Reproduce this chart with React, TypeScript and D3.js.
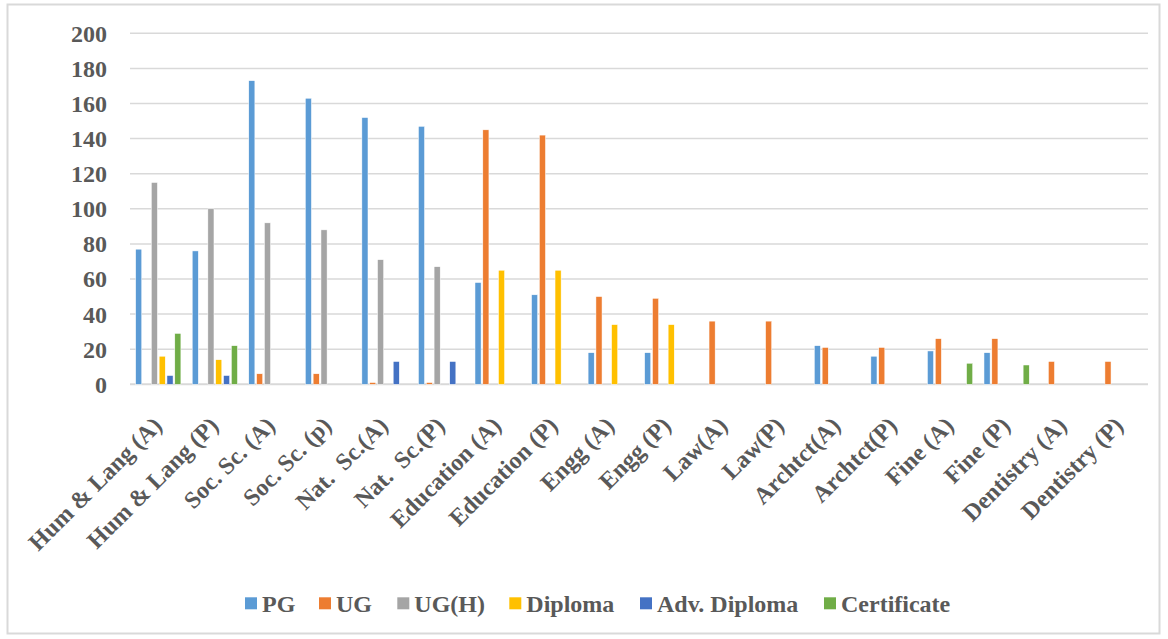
import React from "react";
import * as d3 from "d3";

const categories = [
  "Hum & Lang (A)", "Hum & Lang (P)", "Soc. Sc. (A)", "Soc. Sc. (p)", "Nat.  Sc.(A)", "Nat.  Sc.(P)",
  "Education (A)", "Education (P)", "Engg (A)", "Engg (P)", "Law(A)", "Law(P)",
  "Archtct(A)", "Archtct(P)", "Fine (A)", "Fine (P)", "Dentistry (A)", "Dentistry (P)",
];
const seriesNames = ["PG", "UG", "UG(H)", "Diploma", "Adv. Diploma", "Certificate"];
const seriesColors = ["#5B9BD5", "#ED7D31", "#A5A5A5", "#FFC000", "#4472C4", "#70AD47"];

const pg = [77, 76, 173, 163, 152, 147, 58, 51, 18, 18, 0, 0, 22, 16, 19, 18, 0, 0];
const ug = [0, 0, 6, 6, 1, 1, 145, 142, 50, 49, 36, 36, 21, 21, 26, 26, 13, 13];
const ugh = [115, 100, 92, 88, 71, 67, 0, 0, 0, 0, 0, 0, 0, 0, 0, 0, 0, 0];
const diploma = [16, 14, 0, 0, 0, 0, 65, 65, 34, 34, 0, 0, 0, 0, 0, 0, 0, 0];
const advDiploma = [5, 5, 0, 0, 13, 13, 0, 0, 0, 0, 0, 0, 0, 0, 0, 0, 0, 0];
const certificate = [29, 22, 0, 0, 0, 0, 0, 0, 0, 0, 0, 0, 0, 0, 12, 11, 0, 0];
const yTicks = [0, 20, 40, 60, 80, 100, 120, 140, 160, 180, 200];

const seriesValues = [pg, ug, ugh, diploma, advDiploma, certificate];

export default function App() {
  const W = 1168, H = 639;
  const left = 130, right = 1148, top = 33.3, bottom = 384.3;
  const x = d3.scaleBand<string>().domain(categories).range([left, right]).paddingInner(0.2).paddingOuter(0.1);
  const xi = d3.scaleBand<string>().domain(seriesNames).range([0, x.bandwidth()]).paddingInner(0.22);
  const y = d3.scaleLinear().domain([0, 200]).range([bottom, top]);
  const font = "'Liberation Serif', 'Times New Roman', serif";
  const textColor = "#595959";

  const legendX = [245, 319, 397.3, 509.3, 640, 824];

  return (
    <svg width={W} height={H} style={{ position: "absolute", left: 0, top: 0 }} fontFamily={font}>
      <rect x={0} y={0} width={W} height={H} fill="#fff" />
      <rect x={7.5} y={4.5} width={1152} height={629} fill="#fff" stroke="#d9d9d9" strokeWidth={2} />
      {yTicks.map((t) => (
        <g key={t}>
          <line x1={left} x2={right} y1={y(t)} y2={y(t)} stroke="#d9d9d9" strokeWidth={t === 0 ? 2 : 1.5} />
          <text x={107} y={y(t)} dy="0.35em" textAnchor="end" fontSize={24} fontWeight="bold" fill={textColor}>
            {t}
          </text>
        </g>
      ))}
      {seriesValues.map((vals, si) => (
        <g key={si} fill={seriesColors[si]}>
          {categories.map((c, ci) => {
            const v = vals[ci];
            if (!v) return null;
            const bx = (x(c) as number) + (xi(seriesNames[si]) as number);
            return (
              <rect key={c} x={bx} y={y(v)} width={xi.bandwidth()} height={bottom - y(v)} stroke="#fff" strokeWidth={0.5} />
            );
          })}
        </g>
      ))}
      {categories.map((c) => {
        const cx = (x(c) as number) + x.bandwidth() / 2 + 5;
        return (
          <text
            key={c}
            transform={`translate(${cx},${427}) rotate(-45)`}
            textAnchor="end"
            fontSize={24}
            fontWeight="bold"
            fill={textColor}
            style={{ whiteSpace: "pre" }}
          >
            {c}
          </text>
        );
      })}
      {seriesNames.map((s, i) => (
        <g key={s}>
          <rect x={legendX[i]} y={597.3} width={12} height={12} fill={seriesColors[i]} />
          <text x={legendX[i] + 17} y={611.7} fontSize={24} fontWeight="bold" fill={textColor}>
            {s}
          </text>
        </g>
      ))}
    </svg>
  );
}
